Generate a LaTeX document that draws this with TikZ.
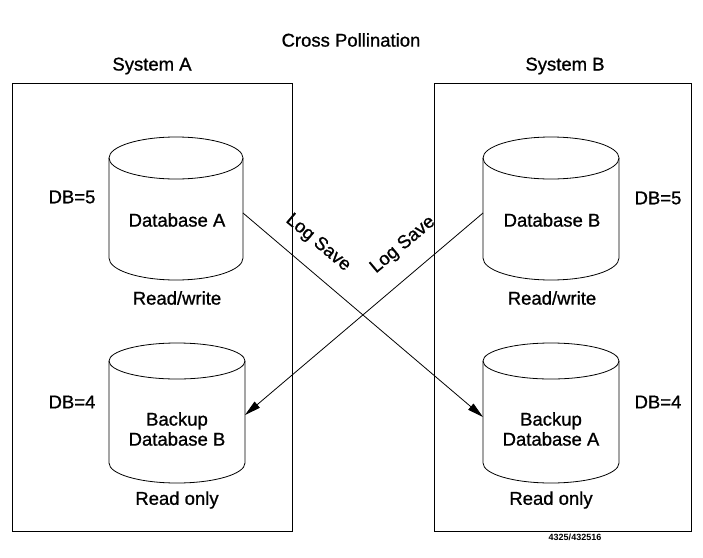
\documentclass[tikz,border=0pt]{standalone}
\usepackage{fontspec}
\setmainfont{Liberation Sans}
\newfontfamily\semib[FakeBold=0.9]{Liberation Sans}
\usetikzlibrary{arrows.meta}
\begin{document}
\begin{tikzpicture}[x=1pt,y=-1pt,
  lbl/.style={font=\semib\fontsize{18.5}{20}\selectfont, inner sep=0pt, align=center},
  sysbox/.style={draw, line width=0.8pt, inner sep=0pt},
  cyl/.style={draw, line width=0.8pt},
  flow/.style={line width=0.8pt, -{Triangle[length=16pt,width=8pt]}}
]
\useasboundingbox (0,0) rectangle (703,557);
% titles
\node[lbl] (title) at (351,40) {Cross Pollination};
\node[lbl] (sysAlbl) at (152,66) {System A};
\node[lbl] (sysBlbl) at (565,66) {System B};
% system boxes
\node[sysbox, minimum width=280pt, minimum height=448pt] (sysA) at (152,307) {};
\node[sysbox, minimum width=257pt, minimum height=448pt] (sysB) at (562.5,307) {};
% Database A
\draw[cyl] (109,158) -- (109,258) arc[start angle=180,end angle=360,x radius=67pt,y radius=22pt] -- (243,158);
\draw[cyl] (176,158) ellipse[x radius=67pt,y radius=21pt];
% Database B
\draw[cyl] (483,158) -- (483,258) arc[start angle=180,end angle=360,x radius=68pt,y radius=22pt] -- (619,158);
\draw[cyl] (551,158) ellipse[x radius=68pt,y radius=21pt];
% Backup Database B
\draw[cyl] (109,361) -- (109,463) arc[start angle=180,end angle=360,x radius=68pt,y radius=20pt] -- (245,361);
\draw[cyl] (177,361) ellipse[x radius=68pt,y radius=18pt];
% Backup Database A
\draw[cyl] (483,361) -- (483,463) arc[start angle=180,end angle=360,x radius=68pt,y radius=20pt] -- (619,361);
\draw[cyl] (551,361) ellipse[x radius=68pt,y radius=18pt];
% texts
\node[lbl] (dbA) at (177,220) {Database A};
\node[lbl] (dbB) at (552,220) {Database B};
\node[lbl] (bkB) at (177,429) {Backup\\[0pt]Database B};
\node[lbl] (bkA) at (551,429) {Backup\\[0pt]Database A};
\node[lbl] (rwA) at (177,298) {Read/write};
\node[lbl] (rwB) at (552,298) {Read/write};
\node[lbl] (roA) at (177,500) {Read only};
\node[lbl] (roB) at (551,500) {Read only};
\node[lbl] (dA5) at (72,197) {DB=5};
\node[lbl] (dA4) at (72,402) {DB=4};
\node[lbl] (dB5) at (658,198) {DB=5};
\node[lbl] (dB4) at (658,402) {DB=4};
\node[lbl, rotate=-40] (ls1) at (318,243) {Log Save};
\node[lbl, rotate=40] (ls2) at (403,245) {Log Save};
\node[font=\fontsize{9}{10}\selectfont\bfseries, inner sep=0pt] (fig) at (575,537) {4325/432516};
% connector ends on cylinder sides
\coordinate (dbAout) at (243,213);
\coordinate (dbBout) at (483,213);
\coordinate (bkAin) at (483,417);
\coordinate (bkBin) at (245,415);
\draw[flow] (dbAout) -- (bkAin);
\draw[flow] (dbBout) -- (bkBin);
\end{tikzpicture}
\end{document}
